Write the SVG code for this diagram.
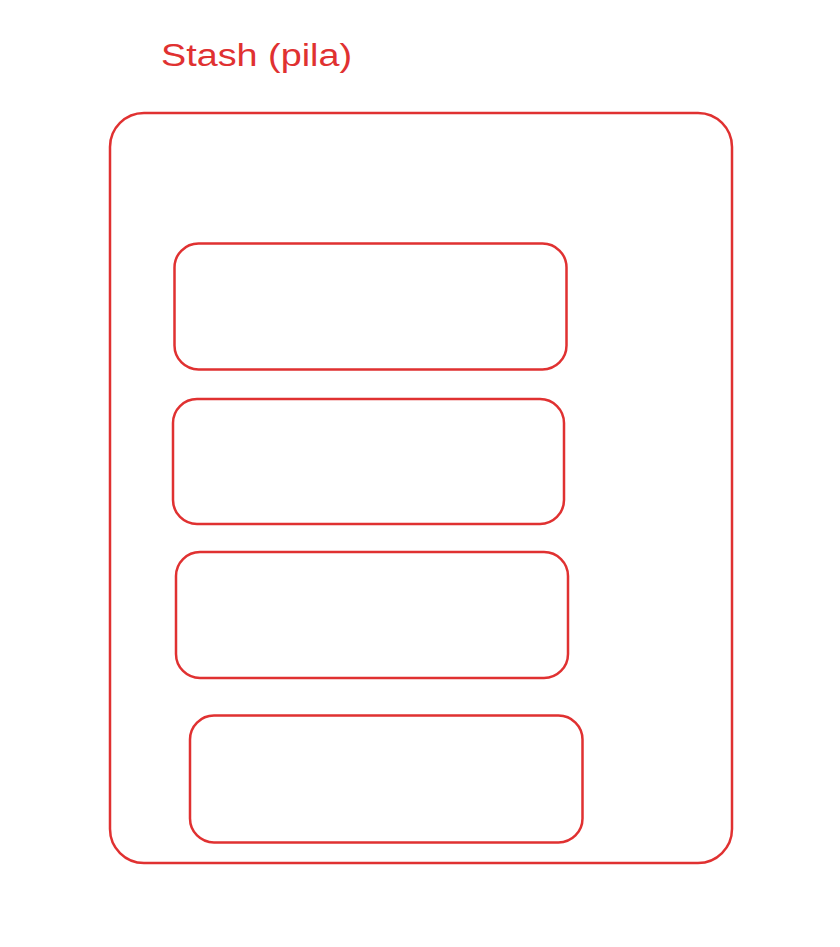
<svg xmlns="http://www.w3.org/2000/svg" width="840" height="947" viewBox="0 0 840 947">
<style>
.box{fill:none;stroke:#e03131;stroke-width:2.5;stroke-linecap:round;stroke-linejoin:round}
.title{font-family:"Liberation Sans",Arial,sans-serif;font-size:31px;fill:#e03131}
</style>
<rect width="840" height="947" fill="#ffffff"/>
<g id="title"><text class="title" x="161" y="66" textLength="191" lengthAdjust="spacingAndGlyphs">Stash (pila)</text></g>
<g id="stack"><rect class="box" x="110" y="113" width="622" height="750" rx="34"/></g>
<g id="item1"><rect class="box" x="174.5" y="243.5" width="392" height="126" rx="24"/></g>
<g id="item2"><rect class="box" x="173" y="399" width="391" height="125" rx="24"/></g>
<g id="item3"><rect class="box" x="176" y="552" width="392" height="126" rx="24"/></g>
<g id="item4"><rect class="box" x="190" y="715.5" width="392.5" height="127" rx="24"/></g>
<g id="connectors"/>
</svg>
